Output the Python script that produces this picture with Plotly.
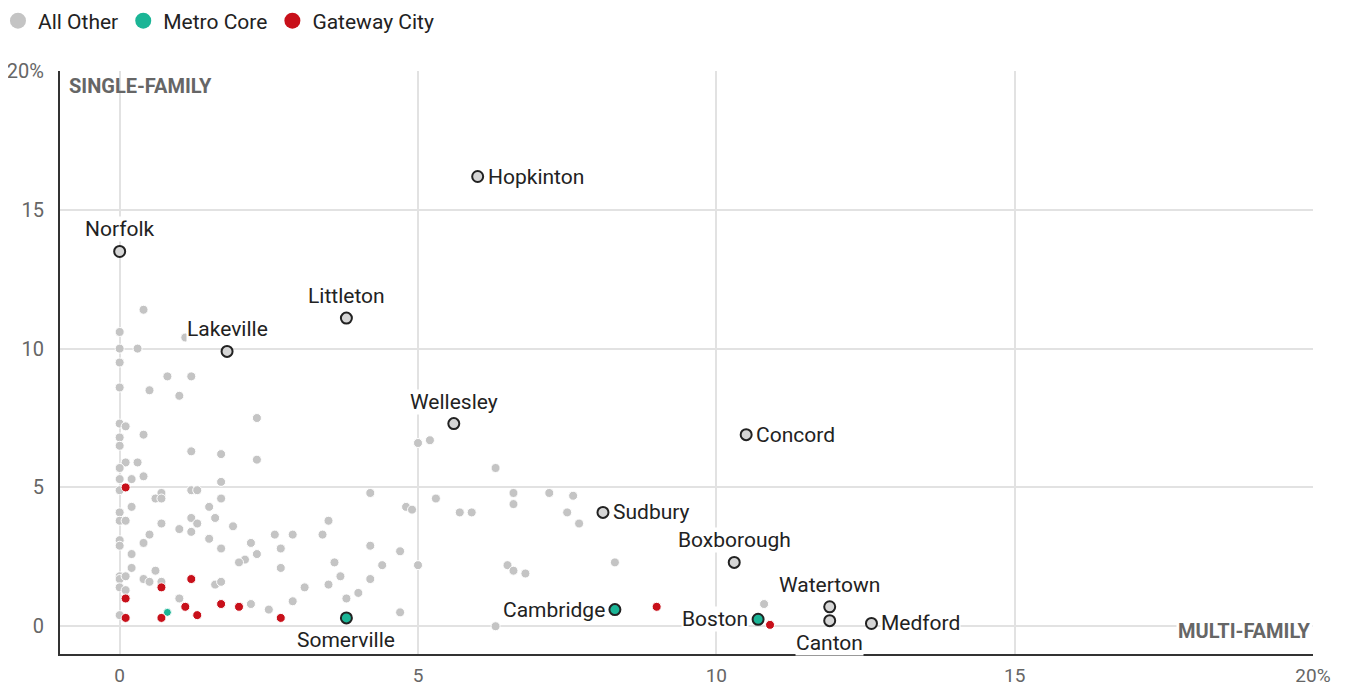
import plotly.graph_objects as go

# ---- Data: x = multi-family share (%), y = single-family share (%) ----
other_x = [0.4, 0, 0, 0.3, 1.1, 0, 0.8, 1.2, 0, 0.5, 1.0, 2.3, 0, 0.1, 0.4, 0, 0, 1.2, 1.7, 2.3,
           0.1, 0.3, 0, 0, 0.2, 0.4, 1.7, 0, 1.2, 1.3, 0.7, 0.6, 0.7, 1.7, 0.2, 1.5, 0, 0, 0.1, 1.2,
           1.6, 1.3, 0.7, 1.9, 1.0, 1.2, 0.5, 2.6, 1.5, 0, 0, 0.4, 1.7, 2.2, 2.3, 2.1, 2.0, 0.2, 0.2, 0.6,
           0, 0, 0.1, 0, 0.1, 0.4, 0.5, 0.7, 1.6, 1.7, 1.0, 2.2, 2.5, 0,
           2.9, 3.4, 3.5, 2.7, 2.7, 3.6, 3.7, 3.5, 3.1, 2.9, 3.8, 4.0, 4.2, 4.2, 4.7, 4.4, 5.0, 4.7,
           4.2, 4.8, 4.9, 5.3, 5.0, 5.2, 5.7, 5.9, 6.3, 6.6, 6.6, 7.2, 7.6, 7.5, 7.7, 6.5, 6.6, 6.8,
           8.3, 6.3, 10.8]
other_y = [11.4, 10.6, 10.0, 10.0, 10.4, 9.5, 9.0, 9.0, 8.6, 8.5, 8.3, 7.5, 7.3, 7.2, 6.9, 6.8, 6.5, 6.3, 6.2, 6.0,
           5.9, 5.9, 5.7, 5.3, 5.3, 5.4, 5.2, 4.9, 4.9, 4.9, 4.8, 4.6, 4.6, 4.6, 4.3, 4.3, 4.1, 3.8, 3.8, 3.9,
           3.9, 3.7, 3.7, 3.6, 3.5, 3.4, 3.3, 3.3, 3.15, 3.1, 2.9, 3.0, 2.8, 3.0, 2.6, 2.4, 2.3, 2.6, 2.1, 2.0,
           1.8, 1.7, 1.8, 1.4, 1.3, 1.7, 1.6, 1.6, 1.5, 1.6, 1.0, 0.8, 0.6, 0.4,
           3.3, 3.3, 3.8, 2.8, 2.1, 2.3, 1.8, 1.5, 1.4, 0.9, 1.0, 1.2, 1.7, 2.9, 2.7, 2.2, 2.2, 0.5,
           4.8, 4.3, 4.2, 4.6, 6.6, 6.7, 4.1, 4.1, 5.7, 4.8, 4.4, 4.8, 4.7, 4.1, 3.7, 2.2, 2.0, 1.9,
           2.3, 0.0, 0.8]

gateway_x = [0.1, 0.7, 1.2, 0.1, 1.1, 1.7, 2.0, 2.7, 0.7, 1.3, 0.1, 9.0, 10.9]
gateway_y = [5.0, 1.4, 1.7, 1.0, 0.7, 0.8, 0.7, 0.3, 0.3, 0.4, 0.3, 0.7, 0.05]

metro_x = [0.8]
metro_y = [0.5]

# Labelled towns
named_other = ["Hopkinton", "Norfolk", "Littleton", "Lakeville", "Wellesley", "Concord",
               "Sudbury", "Boxborough", "Watertown", "Canton", "Medford"]
named_other_x = [6.0, 0.0, 3.8, 1.8, 5.6, 10.5, 8.1, 10.3, 11.9, 11.9, 12.6]
named_other_y = [16.2, 13.5, 11.1, 9.9, 7.3, 6.9, 4.1, 2.3, 0.7, 0.2, 0.1]
named_other_pos = ["right", "top", "top", "top", "top", "right", "right", "top", "top", "bottom", "right"]

named_metro = ["Somerville", "Cambridge", "Boston"]
named_metro_x = [3.8, 8.3, 10.7]
named_metro_y = [0.3, 0.6, 0.25]
named_metro_pos = ["bottom", "left", "left"]

legend_names = ["All Other", "Metro Core", "Gateway City"]

tick_vals = [0, 5, 10, 15, 20]
tick_text = ["0", "5", "10", "15", "20%"]

GRAY = "#c4c4c4"
GRAY_L = "#d6d6d6"
TEAL = "#1bb596"
RED = "#c8101a"
FONT = "Roboto"
legend_colors = [GRAY, TEAL, RED]

fig = go.Figure()

fig.add_trace(go.Scatter(x=other_x, y=other_y, mode="markers", name="All Other", showlegend=False,
                         marker=dict(size=9, color=GRAY, line=dict(color="white", width=1)),
                         hoverinfo="skip"))
fig.add_trace(go.Scatter(x=metro_x, y=metro_y, mode="markers", name="Metro Core", showlegend=False,
                         marker=dict(size=8, color=TEAL, line=dict(color="white", width=1)),
                         hoverinfo="skip"))
fig.add_trace(go.Scatter(x=gateway_x, y=gateway_y, mode="markers", name="Gateway City", showlegend=False,
                         marker=dict(size=9, color=RED, line=dict(color="white", width=1)),
                         hoverinfo="skip"))
fig.add_trace(go.Scatter(x=named_other_x, y=named_other_y, mode="markers", showlegend=False,
                         marker=dict(size=11, color=GRAY_L, line=dict(color="#222", width=2)),
                         text=named_other, hoverinfo="text"))
fig.add_trace(go.Scatter(x=named_metro_x, y=named_metro_y, mode="markers", showlegend=False,
                         marker=dict(size=11, color=TEAL, line=dict(color="#222", width=2)),
                         text=named_metro, hoverinfo="text"))

# Legend entries (large dots)
for nm, col in zip(legend_names, legend_colors):
    fig.add_trace(go.Scatter(x=[None], y=[None], mode="markers", name=nm,
                             marker=dict(size=22, color=col), hoverinfo="skip"))

pos_map = {
    "right": dict(xanchor="left", yanchor="middle", xshift=9, yshift=0),
    "left": dict(xanchor="right", yanchor="middle", xshift=-9, yshift=0),
    "top": dict(xanchor="center", yanchor="bottom", xshift=0, yshift=9),
    "bottom": dict(xanchor="center", yanchor="top", xshift=0, yshift=-9),
}

annotations = []
for names, xs, ys, poss in [(named_other, named_other_x, named_other_y, named_other_pos),
                            (named_metro, named_metro_x, named_metro_y, named_metro_pos)]:
    for n, x, y, p in zip(names, xs, ys, poss):
        annotations.append(dict(x=x, y=y, xref="x", yref="y", text=n, showarrow=False,
                                font=dict(family=FONT, size=21, color="#222"),
                                bgcolor="white", borderpad=0, **pos_map[p]))

annotations.append(dict(x=0, y=1, xref="paper", yref="paper", text="<b>SINGLE-FAMILY</b>",
                        xanchor="left", yanchor="top", xshift=7, yshift=-1, showarrow=False,
                        font=dict(family=FONT, size=20, color="#666")))
annotations.append(dict(x=1, y=0, xref="paper", yref="paper", text="<b>MULTI-FAMILY</b>",
                        xanchor="right", yanchor="bottom", xshift=0, yshift=9, showarrow=False,
                        bgcolor="white", borderpad=1,
                        font=dict(family=FONT, size=20, color="#666")))

# The page body adds an 8px offset, so the figure is sized/margined to compensate
fig.update_layout(
    width=1340, height=679,
    margin=dict(l=52, r=35, t=63, b=33, autoexpand=False),
    plot_bgcolor="white", paper_bgcolor="white",
    font=dict(family=FONT, size=20, color="#666"),
    showlegend=True,
    legend=dict(orientation="h", x=-0.0495, xanchor="left", y=1.0858, yanchor="middle",
                font=dict(family=FONT, size=21, color="#222"), itemsizing="trace",
                bgcolor="rgba(0,0,0,0)", tracegroupgap=0),
    annotations=annotations,
    xaxis=dict(range=[-1, 20], tickvals=tick_vals, ticktext=tick_text, showgrid=True,
               gridcolor="#e2e2e2", gridwidth=1.5, zeroline=False, showline=True,
               linecolor="#333", linewidth=2, ticks="", ticklabelstandoff=3,
               tickfont=dict(family=FONT, size=19, color="#666"), fixedrange=True),
    yaxis=dict(range=[-1, 20], tickvals=tick_vals, ticktext=tick_text, showgrid=True,
               gridcolor="#e2e2e2", gridwidth=1.5, zeroline=False, showline=True,
               linecolor="#333", linewidth=2, ticks="", ticklabelstandoff=10,
               tickfont=dict(family=FONT, size=20, color="#666"), fixedrange=True),
)

fig.write_html("out.html")
